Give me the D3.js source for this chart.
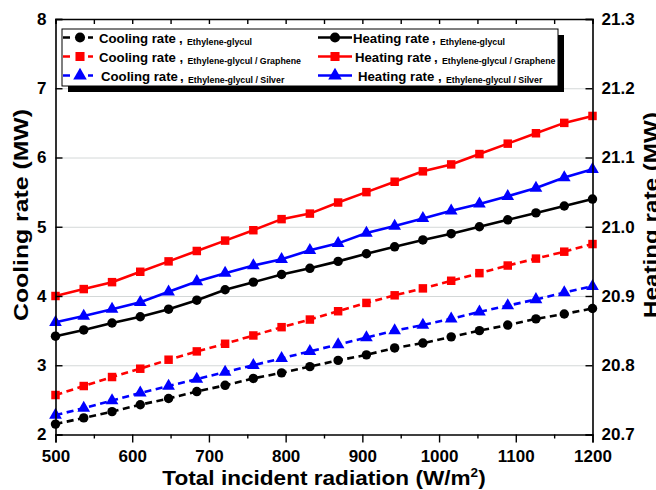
<!DOCTYPE html>
<html>
<head>
<meta charset="utf-8">
<script src="https://cdn.jsdelivr.net/npm/d3@7"></script>
<style>
  body { margin: 0; background: #fff; }
  svg { display: block; font-family: "Liberation Sans", Arial, sans-serif; font-weight: bold; }
</style>
</head>
<body>
<div id="chart"></div>
<script>
// radiation values (W/m2) where the points sit
const radiation = [500, 536.8, 573.7, 610.5, 647.4, 684.2, 721.1, 757.9, 794.7, 831.6,
  868.4, 905.3, 942.1, 978.9, 1015.8, 1052.6, 1089.5, 1126.3, 1163.2, 1200]

// cooling rate, MW (left axis)
const coolingEG = [2.15, 2.24, 2.33, 2.43, 2.52, 2.62, 2.71, 2.81, 2.89, 2.98,
  3.07, 3.15, 3.25, 3.32, 3.41, 3.50, 3.58, 3.67, 3.74, 3.82]
const coolingGr = [2.57, 2.70, 2.83, 2.95, 3.08, 3.20, 3.31, 3.43, 3.55, 3.66,
  3.78, 3.90, 4.01, 4.11, 4.22, 4.33, 4.44, 4.54, 4.64, 4.75]
const coolingAg = [2.28, 2.38, 2.49, 2.60, 2.70, 2.80, 2.90, 3.00, 3.10, 3.20,
  3.30, 3.40, 3.50, 3.58, 3.67, 3.77, 3.86, 3.95, 4.05, 4.14]

// heating rate, MW (right axis)
const heatingEG = [20.842, 20.851, 20.861, 20.870, 20.881, 20.894, 20.909, 20.920, 20.931, 20.940,
  20.950, 20.961, 20.971, 20.981, 20.990, 21.000, 21.010, 21.020, 21.030, 21.040]
const heatingGr = [20.900, 20.910, 20.920, 20.935, 20.950, 20.965, 20.980, 20.995, 21.011, 21.019,
  21.035, 21.050, 21.065, 21.080, 21.090, 21.105, 21.120, 21.135, 21.150, 21.160]
const heatingAg = [20.862, 20.871, 20.881, 20.891, 20.906, 20.921, 20.933, 20.944, 20.953, 20.966,
  20.976, 20.991, 21.001, 21.012, 21.023, 21.033, 21.044, 21.056, 21.071, 21.083]

const xTicks = [500, 600, 700, 800, 900, 1000, 1100, 1200]
const xMinorTicks = [550, 650, 750, 850, 950, 1050, 1150]
const leftTicks = [2, 3, 4, 5, 6, 7, 8]
const rightTicks = [20.7, 20.8, 20.9, 21.0, 21.1, 21.2, 21.3]

const series = [
  { label: "Cooling rate", sub: "Ethylene-glycul", values: coolingEG, axis: "left", color: "#000", symbol: d3.symbolCircle, dashed: true },
  { label: "Cooling rate", sub: "Ethylene-glycul / Graphene", values: coolingGr, axis: "left", color: "#ff0000", symbol: d3.symbolSquare, dashed: true },
  { label: "Cooling rate", sub: "Ethylene-glycul / Silver", values: coolingAg, axis: "left", color: "#0000ff", symbol: d3.symbolTriangle, dashed: true },
  { label: "Heating rate", sub: "Ethylene-glycul", values: heatingEG, axis: "right", color: "#000", symbol: d3.symbolCircle, dashed: false },
  { label: "Heating rate", sub: "Ethylene-glycul / Graphene", values: heatingGr, axis: "right", color: "#ff0000", symbol: d3.symbolSquare, dashed: false },
  { label: "Heating rate", sub: "Ethylene-glycul / Silver", values: heatingAg, axis: "right", color: "#0000ff", symbol: d3.symbolTriangle, dashed: false }
]

const width = 656
const height = 490
const plotLeft = 55.5, plotRight = 592.5, plotTop = 19, plotBottom = 434.5

const svg = d3.select("#chart").append("svg")
  .attr("width", width)
  .attr("height", height)

const x = d3.scaleLinear().domain([500, 1200]).range([plotLeft, plotRight])
const yL = d3.scaleLinear().domain([2, 8]).range([plotBottom, plotTop])
const yR = d3.scaleLinear().domain([20.7, 21.3]).range([plotBottom, plotTop])

// gridlines
svg.append("g")
  .attr("class", "grid")
  .attr("transform", `translate(${plotLeft},0)`)
  .call(d3.axisLeft(yL).tickValues([3, 4, 5, 6, 7]).tickSize(-(plotRight - plotLeft)).tickFormat(""))
  .call(g => g.select(".domain").remove())
  .call(g => g.selectAll("line").attr("stroke", "#d4d8d8").attr("stroke-width", 1))

function sizeOf(s) {
  if (s === d3.symbolCircle) return 70
  if (s === d3.symbolSquare) return 72
  return 70
}

// lines and markers
series.forEach(s => {
  const yS = s.axis === "left" ? yL : yR
  const line = d3.line()
    .x((d, i) => x(radiation[i]))
    .y(d => yS(d))
  svg.append("path")
    .datum(s.values)
    .attr("d", line)
    .attr("fill", "none")
    .attr("stroke", s.color)
    .attr("stroke-width", 2.6)
    .attr("stroke-dasharray", s.dashed ? "7,4.5" : null)
  svg.append("g")
    .selectAll("path")
    .data(s.values)
    .enter()
    .append("path")
    .attr("d", d3.symbol().type(s.symbol).size(sizeOf(s.symbol)))
    .attr("transform", (d, i) => `translate(${x(radiation[i])},${yS(d)})`)
    .attr("fill", s.color)
})

// axes
const bottomAxis = svg.append("g")
  .attr("class", "axis")
  .attr("transform", `translate(0,${plotBottom})`)
  .call(d3.axisBottom(x).tickValues(xTicks).tickSize(8).tickPadding(7).tickFormat(d3.format("d")))
bottomAxis.append("g")
  .call(d3.axisBottom(x).tickValues(xMinorTicks).tickSize(4).tickFormat(""))
  .call(g => g.select(".domain").remove())

svg.append("g")
  .attr("class", "axis")
  .attr("transform", `translate(0,${plotTop})`)
  .call(d3.axisTop(x).tickValues(xTicks.concat(xMinorTicks)).tickSize(-5).tickFormat(""))

svg.append("g")
  .attr("class", "axis")
  .attr("transform", `translate(${plotLeft},0)`)
  .call(d3.axisLeft(yL).tickValues(leftTicks).tickSize(-7).tickPadding(9).tickFormat(d3.format("d")))

svg.append("g")
  .attr("class", "axis")
  .attr("transform", `translate(${plotRight},0)`)
  .call(d3.axisRight(yR).tickValues(rightTicks).tickSize(-7).tickPadding(9).tickFormat(d3.format(".1f")))

svg.selectAll(".axis .domain").attr("stroke", "#000").attr("stroke-width", 1.6)
svg.selectAll(".axis .tick line").attr("stroke", "#000").attr("stroke-width", 1.4)
svg.selectAll(".axis .tick text")
  .attr("fill", "#000")
  .style("font-size", "17px")
  .style("font-weight", "bold")
  .style("font-family", "'Liberation Sans', Arial, sans-serif")

// axis titles
const midY = 215
svg.append("text")
  .attr("transform", `translate(28,${midY}) rotate(-90)`)
  .attr("text-anchor", "middle")
  .attr("textLength", 212)
  .attr("lengthAdjust", "spacingAndGlyphs")
  .style("font-size", "21px")
  .text("Cooling rate (MW)")

svg.append("text")
  .attr("transform", `translate(658,${midY}) rotate(-90)`)
  .attr("text-anchor", "middle")
  .attr("textLength", 206)
  .attr("lengthAdjust", "spacingAndGlyphs")
  .style("font-size", "21px")
  .text("Heating rate (MW)")

const xTitle = svg.append("text")
  .attr("transform", `translate(${(plotLeft + plotRight) / 2},485) scale(1.13,1)`)
  .attr("text-anchor", "middle")
  .style("font-size", "20px")
xTitle.append("tspan").text("Total incident radiation (W/m")
xTitle.append("tspan").attr("dy", -8).style("font-size", "12px").text("2")
xTitle.append("tspan").attr("dy", 8).text(")")

// legend
const legend = svg.append("g")
legend.append("rect")
  .attr("x", 68).attr("y", 35).attr("width", 496).attr("height", 57)
  .attr("fill", "#000")
legend.append("rect")
  .attr("x", 62).attr("y", 29).attr("width", 496).attr("height", 57)
  .attr("fill", "#fff").attr("stroke", "#000").attr("stroke-width", 1)

const rowY = [37.5, 56.5, 75.5]
const labelX = [[99, 99, 101], [353, 355, 358]]
const subX = [[187, 187.5, 188], [440, 442, 446]]
series.forEach((s, i) => {
  const col = s.axis === "left" ? 0 : 1
  const row = i % 3
  const sx0 = col === 0 ? 63 : 318
  const sx1 = col === 0 ? 97 : 352
  const ty = rowY[row]
  legend.append("line")
    .attr("x1", sx0).attr("x2", sx1)
    .attr("y1", ty).attr("y2", ty)
    .attr("stroke", s.color)
    .attr("stroke-width", 2.6)
    .attr("stroke-dasharray", s.dashed ? "7,4.5" : null)
  if (s.dashed) {
    // white gap around the marker like the original
    legend.append("rect")
      .attr("x", (sx0 + sx1) / 2 - 8).attr("y", ty - 3).attr("width", 16).attr("height", 6)
      .attr("fill", "#fff")
  }
  legend.append("path")
    .attr("d", d3.symbol().type(s.symbol).size(sizeOf(s.symbol) + 10))
    .attr("transform", `translate(${(sx0 + sx1) / 2},${ty})`)
    .attr("fill", s.color)
  legend.append("text")
    .attr("x", labelX[col][row])
    .attr("y", ty + 5)
    .style("font-size", "13.2px")
    .text(s.label)
  legend.append("text")
    .attr("x", subX[col][row] - 8)
    .attr("y", ty + 5)
    .style("font-size", "13.2px")
    .text(",")
  legend.append("text")
    .attr("x", subX[col][row])
    .attr("y", ty + 7.5)
    .style("font-size", "8.8px")
    .text(s.sub)
})
</script>
</body>
</html>
